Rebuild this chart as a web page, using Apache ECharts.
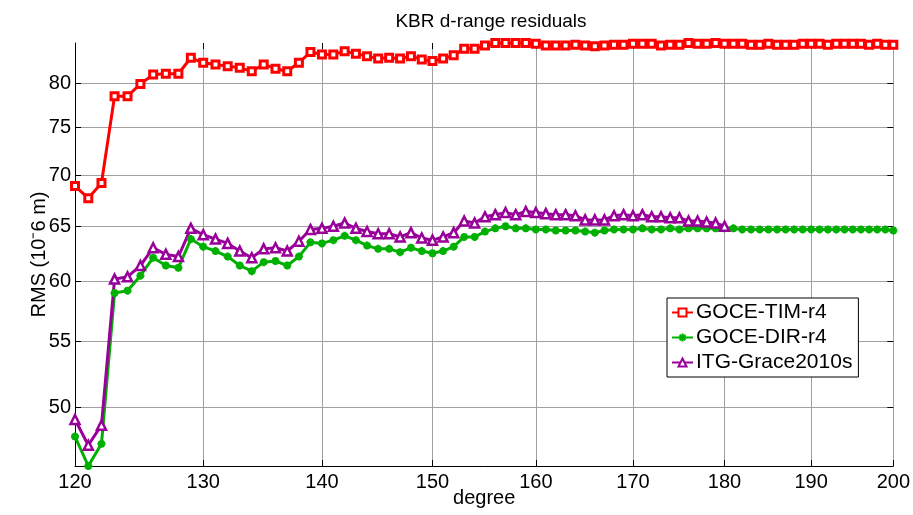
<!DOCTYPE html>
<html>
<head>
<meta charset="utf-8">
<script src="https://cdn.jsdelivr.net/npm/echarts@6/dist/echarts.min.js"></script>
<style>
  html, body { margin: 0; padding: 0; background: #fff; }
  #main { width: 913px; height: 515px; }
</style>
</head>
<body>
<div id="main"></div>
<script>
// spherical harmonic degree (x) and RMS of KBR range-rate residuals (y), log-log plot
var degrees = [120, 121, 122, 123, 124, 125, 126, 127, 128, 129,
  130, 131, 132, 133, 134, 135, 136, 137, 138, 139,
  140, 141, 142, 143, 144, 145, 146, 147, 148, 149,
  150, 151, 152, 153, 154, 155, 156, 157, 158, 159,
  160, 161, 162, 163, 164, 165, 166, 167, 168, 169,
  170, 171, 172, 173, 174, 175, 176, 177, 178, 179,
  180, 181, 182, 183, 184, 185, 186, 187, 188, 189,
  190, 191, 192, 193, 194, 195, 196, 197, 198, 199, 200];

var timR4 = [68.9, 67.7, 69.2, 78.5, 78.5, 79.9, 81.0, 81.1, 81.1, 83.0,
  82.4, 82.2, 82.0, 81.8, 81.4, 82.2, 81.7, 81.4, 82.4, 83.7,
  83.4, 83.4, 83.8, 83.5, 83.2, 82.9, 83.0, 82.9, 83.2, 82.8,
  82.6, 82.9, 83.3, 84.1, 84.1, 84.5, 84.8, 84.8, 84.8, 84.8,
  84.7, 84.5, 84.5, 84.5, 84.6, 84.5, 84.4, 84.5, 84.6, 84.6,
  84.7, 84.7, 84.7, 84.5, 84.6, 84.6, 84.8, 84.7, 84.7, 84.8,
  84.7, 84.7, 84.7, 84.6, 84.6, 84.7, 84.6, 84.6, 84.6, 84.7,
  84.7, 84.7, 84.6, 84.7, 84.7, 84.7, 84.7, 84.6, 84.7, 84.6, 84.6];

var dirR4 = [47.9, 45.9, 47.4, 59.0, 59.2, 60.5, 62.1, 61.4, 61.2, 63.8,
  63.1, 62.7, 62.2, 61.4, 60.9, 61.7, 61.8, 61.4, 62.2, 63.5,
  63.4, 63.7, 64.1, 63.7, 63.2, 62.9, 62.9, 62.6, 63.0, 62.7,
  62.5, 62.7, 63.1, 64.0, 64.0, 64.5, 64.8, 65.0, 64.8, 64.8,
  64.7, 64.7, 64.6, 64.6, 64.6, 64.5, 64.4, 64.6, 64.7, 64.7,
  64.7, 64.8, 64.7, 64.7, 64.8, 64.7, 64.8, 64.8, 64.8, 64.8,
  64.8, 64.8, 64.7, 64.7, 64.7, 64.7, 64.7, 64.7, 64.7, 64.7,
  64.7, 64.7, 64.7, 64.7, 64.7, 64.7, 64.7, 64.7, 64.7, 64.7, 64.6];

// ITG-Grace2010s stops at degree 180
var itgGrace = [49.1, 47.3, 48.7, 60.2, 60.4, 61.4, 63.0, 62.4, 62.2, 64.8,
  64.2, 63.8, 63.4, 62.7, 62.1, 62.9, 63.0, 62.7, 63.6, 64.7,
  64.8, 65.0, 65.3, 64.8, 64.5, 64.3, 64.3, 64.0, 64.4, 63.9,
  63.7, 64.0, 64.4, 65.5, 65.3, 65.9, 66.1, 66.3, 66.1, 66.4,
  66.3, 66.2, 66.1, 66.1, 66.0, 65.6, 65.6, 65.6, 66.0, 66.1,
  66.0, 66.1, 65.9, 65.9, 65.8, 65.8, 65.5, 65.5, 65.4, 65.3, 65.0];

var xTicks = [120, 130, 140, 150, 160, 170, 180, 190, 200];
var yTicks = [50, 55, 60, 65, 70, 75, 80];

function pairs(vals) {
  var out = [];
  for (var i = 0; i < vals.length; i++) out.push([degrees[i], vals[i]]);
  return out;
}

var asterisk = 'path://M5 0L5 10M0 5L10 5M1.5 1.5L8.5 8.5M8.5 1.5L1.5 8.5';
var font = 'Liberation Sans, Arial, sans-serif';
var gridColor = '#a0a0a0';

var chart = echarts.init(document.getElementById('main'));
chart.setOption({
  animation: false,
  backgroundColor: '#fff',
  title: {
    text: 'KBR d-range residuals',
    left: 486, top: 7, textAlign: 'center',
    textStyle: { fontFamily: font, fontSize: 19, fontWeight: 'normal', color: '#000' }
  },
  grid: { left: 75, right: 16, top: 43, bottom: 49, containLabel: false },
  legend: {
    orient: 'vertical',
    left: 667, top: 298,
    backgroundColor: '#fff',
    borderColor: '#000', borderWidth: 1,
    padding: [4, 6, 4, 4],
    itemGap: 4, itemWidth: 21, itemHeight: 10,
    textStyle: { fontFamily: font, fontSize: 21, color: '#000', padding: [0, 0, 0, -2] },
    data: ['GOCE-TIM-r4', 'GOCE-DIR-r4', 'ITG-Grace2010s']
  },
  xAxis: [{
    type: 'log', logBase: 10, min: 120, max: 200,
    name: 'degree', nameLocation: 'middle', nameGap: 22, nameMoveOverlap: false,
    nameTextStyle: { fontFamily: font, fontSize: 20, color: '#000' },
    axisLine: { lineStyle: { color: '#000', width: 1 } },
    axisTick: { inside: true, length: 6, customValues: xTicks, lineStyle: { color: '#000' } },
    axisLabel: { customValues: xTicks, margin: 6, fontFamily: font, fontSize: 20, color: '#000' },
    splitLine: { show: true, lineStyle: { color: gridColor, width: 1 } }
  }, {
    type: 'log', logBase: 10, min: 120, max: 200, position: 'top',
    axisLine: { show: false },
    axisTick: { inside: true, length: 6, customValues: xTicks, lineStyle: { color: '#000' } },
    axisLabel: { show: false },
    splitLine: { show: false }
  }],
  yAxis: [{
    type: 'log', logBase: 10, min: 45.9, max: 84.8,
    name: 'RMS (10\u207B6 m)', nameLocation: 'middle', nameGap: 26, nameRotate: 90,
    nameMoveOverlap: false,
    nameTextStyle: { fontFamily: font, fontSize: 20, color: '#000' },
    axisLine: { show: true, lineStyle: { color: '#000', width: 1 } },
    axisTick: { show: true, inside: true, length: 6, customValues: yTicks, lineStyle: { color: '#000' } },
    axisLabel: { customValues: yTicks, margin: 4, fontFamily: font, fontSize: 20, color: '#000' },
    splitLine: { show: true, lineStyle: { color: gridColor, width: 1 } }
  }, {
    type: 'log', logBase: 10, min: 45.9, max: 84.8, position: 'right',
    axisLine: { show: false },
    axisTick: { show: true, inside: true, length: 6, customValues: yTicks, lineStyle: { color: '#000' } },
    axisLabel: { show: false },
    splitLine: { show: false }
  }],
  series: [{
    name: 'GOCE-TIM-r4', type: 'line', data: pairs(timR4),
    symbol: 'rect', symbolSize: 7, showAllSymbol: true,
    lineStyle: { color: '#ff0000', width: 3 },
    itemStyle: { color: '#fff', borderColor: '#ff0000', borderWidth: 3 }
  }, {
    name: 'GOCE-DIR-r4', type: 'line', data: pairs(dirR4),
    symbol: asterisk, symbolSize: 8, showAllSymbol: true,
    lineStyle: { color: '#00b000', width: 3 },
    itemStyle: { color: '#00b000', borderColor: '#00b000', borderWidth: 2.5 }
  }, {
    name: 'ITG-Grace2010s', type: 'line', data: pairs(itgGrace),
    symbol: 'triangle', symbolSize: 9, showAllSymbol: true,
    lineStyle: { color: '#990099', width: 3 },
    itemStyle: { color: '#fff', borderColor: '#990099', borderWidth: 2.5 }
  }]
});
</script>
</body>
</html>
